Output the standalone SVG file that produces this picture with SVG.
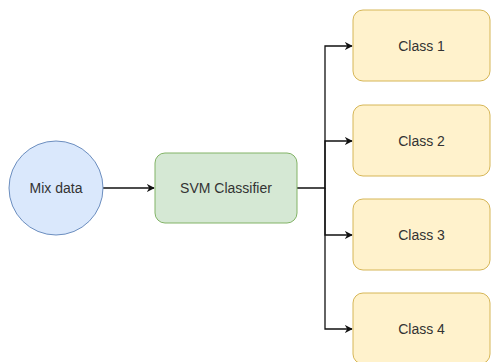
<svg xmlns="http://www.w3.org/2000/svg" width="492" height="362" viewBox="0 0 492 362">
<style>
text{font-family:"Liberation Sans",Arial,sans-serif;font-size:14px;fill:#333;text-anchor:middle;dominant-baseline:central}
.e{fill:none;stroke:#111;stroke-width:1.3}
.cls rect{fill:#fff2cc;stroke:#d6b656;stroke-width:1}
</style>
<defs>
<marker id="a" viewBox="0 0 10 10" refX="9" refY="5" markerWidth="8" markerHeight="8" markerUnits="userSpaceOnUse" orient="auto">
<path d="M0,0 L10,5 L0,10 L3,5 Z" fill="#111"/>
</marker>
</defs>
<rect width="492" height="362" fill="#fff"/>
<g id="connectors">
<path class="e" d="M103,188 H154" marker-end="url(#a)"/>
<path class="e" d="M297,188 H325 V46 H352" marker-end="url(#a)"/>
<path class="e" d="M325,188 V141 H352" marker-end="url(#a)"/>
<path class="e" d="M325,188 V235 H352" marker-end="url(#a)"/>
<path class="e" d="M325,188 V329 H352" marker-end="url(#a)"/>
</g>
<g id="mix">
<circle cx="56" cy="188" r="47" fill="#dae8fc" stroke="#6c8ebf"/>
<text x="56" y="188">Mix data</text>
</g>
<g id="svm">
<rect x="155" y="153" width="142" height="70" rx="10" fill="#d5e8d4" stroke="#82b366"/>
<text x="226" y="188">SVM Classifier</text>
</g>
<g id="class1" class="cls">
<rect x="353" y="10" width="137" height="71" rx="10"/>
<text x="421.5" y="45.5">Class 1</text>
</g>
<g id="class2" class="cls">
<rect x="353" y="105" width="137" height="71" rx="10"/>
<text x="421.5" y="140.5">Class 2</text>
</g>
<g id="class3" class="cls">
<rect x="353" y="199" width="137" height="71" rx="10"/>
<text x="421.5" y="234.5">Class 3</text>
</g>
<g id="class4" class="cls">
<rect x="353" y="293" width="137" height="71" rx="10"/>
<text x="421.5" y="328.5">Class 4</text>
</g>
</svg>
